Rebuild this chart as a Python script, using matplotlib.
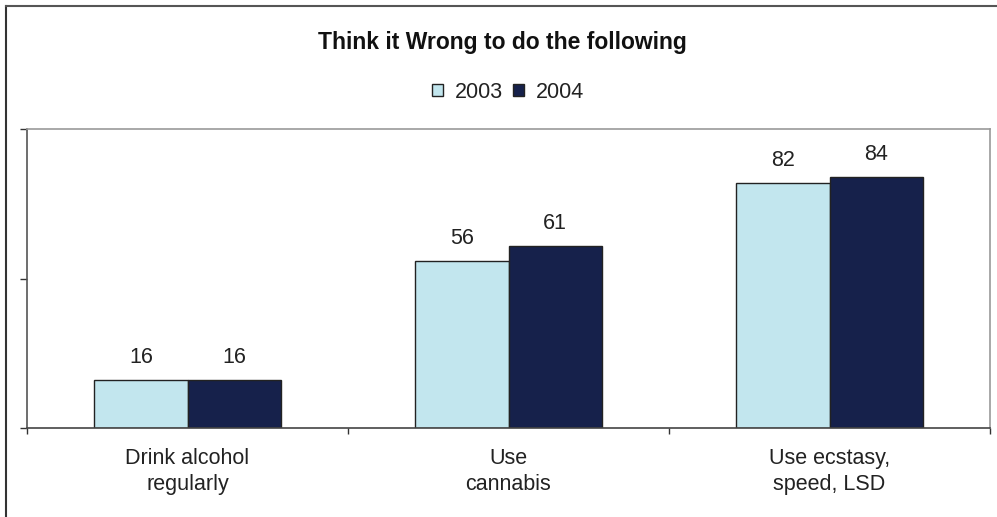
import matplotlib
matplotlib.use("Agg")
import matplotlib.pyplot as plt
from matplotlib.lines import Line2D
import numpy as np

plt.rcParams['font.family'] = ['Liberation Sans', 'DejaVu Sans']

categories = ["Drink alcohol\nregularly", "Use\ncannabis", "Use ecstasy,\nspeed, LSD"]
years = ["2003", "2004"]
values_2003 = [16, 56, 82]
values_2004 = [16, 61, 84]
colors = ["#C2E6EE", "#16214B"]

fig = plt.figure(figsize=(9.97, 5.17), dpi=100)
ax = fig.add_axes([27 / 997, 1 - 428 / 517, 963 / 997, 299 / 517])

x = np.arange(len(categories))
w = 0.29
bars_a = ax.bar(x - w / 2, values_2003, w, color=colors[0], edgecolor="#222222",
                linewidth=1.0, label=years[0])
bars_b = ax.bar(x + w / 2, values_2004, w, color=colors[1], edgecolor="#222222",
                linewidth=1.0, label=years[1])

for bars in (bars_a, bars_b):
    for b in bars:
        ax.annotate(f"{b.get_height():g}", (b.get_x() + b.get_width() / 2, b.get_height()),
                    xytext=(0, 12), textcoords="offset points",
                    ha="center", va="baseline", fontsize=15.5, color="#222222")

ax.set_xlim(-0.5, 2.5)
ax.set_ylim(0, 100)
ax.set_yticks([0, 50, 100])
ax.set_yticklabels([])
ax.set_xticks([-0.5, 0.5, 1.5, 2.5])
ax.set_xticklabels([])
ax.tick_params(axis="y", direction="out", length=5, width=1, color="#333333")
ax.tick_params(axis="x", direction="out", length=4, width=1, color="#333333")

for i, c in enumerate(categories):
    ax.text(i, -6.8, c, ha="center", va="top", fontsize=15.5, color="#222222",
            linespacing=1.27)

ax.spines["left"].set_color("#555555")
ax.spines["bottom"].set_color("#444444")
ax.spines["top"].set_color("#999999")
ax.spines["right"].set_color("#999999")
for s in ax.spines.values():
    s.set_linewidth(1.2)

fig.text(502 / 997, 1 - 42 / 517, "Think it Wrong to do the following", ha="center",
         va="center", fontsize=16.5, fontweight="bold", color="#111111")

leg = fig.legend(loc="center", bbox_to_anchor=(508 / 997, 1 - 92 / 517), ncol=2,
                 frameon=False, fontsize=15.5, handlelength=0.5, handleheight=0.5,
                 handletextpad=0.55, columnspacing=0.5)
for t in leg.get_texts():
    t.set_color("#222222")

# outer frame (left and top edges)
fig.add_artist(Line2D([6 / 997, 6 / 997], [0, 1 - 5.5 / 517], transform=fig.transFigure,
                      color="#333333", linewidth=1.5))
fig.add_artist(Line2D([6 / 997, 1], [1 - 5.5 / 517, 1 - 5.5 / 517], transform=fig.transFigure,
                      color="#555555", linewidth=1.5))

fig.savefig("out.png", dpi=100)
